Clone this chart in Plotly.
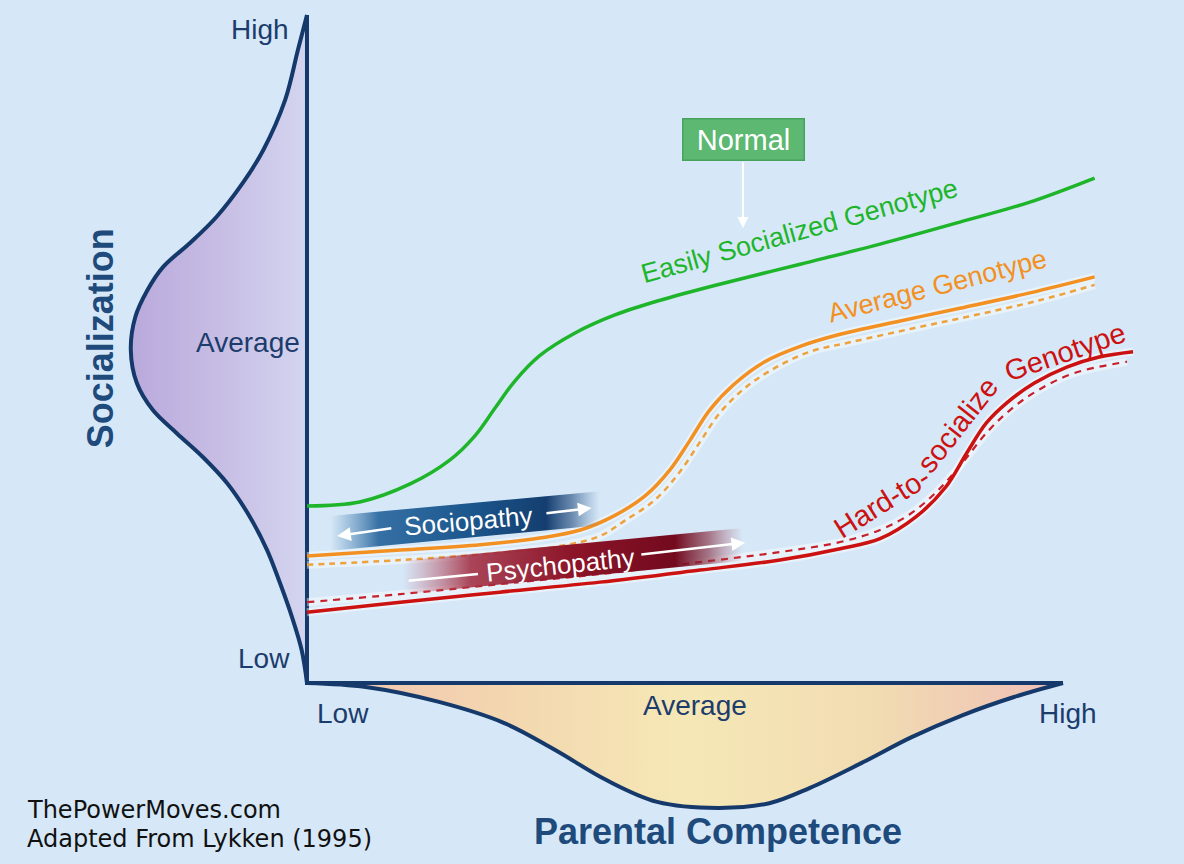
import plotly.graph_objects as go

# ---------------- data (competence 0..100 on x, socialization 0..100 on y) ----------------
green_x = [0, 7.0, 13.7, 19.0, 22.3, 25.0, 27.6, 30.9, 35.6, 40.9, 46.9, 54.8, 65.5, 76.1, 86.7, 96.0, 104.6]
green_y = [26.5, 27.1, 29.8, 33.4, 37.0, 41.2, 45.2, 49.0, 52.4, 55.1, 57.3, 59.7, 62.7, 65.7, 69.0, 72.0, 75.6]

orange_x = [0, 12.4, 23.0, 30.9, 36.3, 40.9, 44.9, 48.2, 50.9, 53.5, 56.8, 60.8, 65.5, 70.8, 78.8, 86.7, 96.0, 104.6]
orange_y = [19.0, 19.9, 20.7, 21.7, 22.9, 25.1, 28.0, 31.9, 36.4, 40.9, 44.8, 48.1, 50.4, 52.2, 54.2, 56.1, 58.4, 60.8]

orange_d_x = [0, 12.4, 25.6, 33.6, 38.9, 42.2, 46.2, 49.5, 52.2, 54.8, 58.2, 62.2, 66.8, 72.1, 80.1, 88.0, 97.3, 104.6]
orange_d_y = [17.7, 18.4, 19.5, 20.5, 22.0, 24.3, 27.4, 31.6, 36.1, 40.4, 44.2, 47.2, 49.6, 51.0, 53.0, 54.9, 57.3, 59.6]

red_x = [0, 12.4, 25.6, 38.9, 52.2, 62.8, 70.8, 76.1, 80.9, 84.8, 87.6, 90.2, 92.9, 96.6, 100.9, 105.2, 109.7]
red_y = [10.6, 12.1, 13.6, 15.1, 16.9, 18.4, 20.1, 21.6, 24.9, 29.3, 34.4, 38.9, 41.9, 44.9, 47.3, 48.8, 49.6]

red_d_x = [0, 12.4, 25.6, 38.9, 52.2, 62.8, 70.8, 76.1, 80.1, 83.6, 87.0, 90.2, 93.4, 97.2, 101.9, 108.9]
red_d_y = [12.1, 13.3, 14.8, 16.3, 18.1, 19.6, 21.1, 22.9, 25.3, 28.6, 32.9, 37.4, 40.9, 43.9, 46.4, 48.1]

# distribution of socialization (drawn left of the y axis)
soc_dist_x = [0, -1.2, -2.9, -5.8, -8.5, -12.0, -15.5, -19.1, -21.2, -22.8, -23.4, -22.6, -20.5, -17.3,
              -13.8, -10.6, -7.6, -5.3, -3.6, -2.0, -0.7, 0]
soc_dist_y = [100, 94.8, 87.3, 79.8, 74.9, 69.8, 65.9, 62.3, 58.8, 54.8, 49.9, 44.9, 40.9, 37.4,
              33.8, 29.9, 24.9, 19.9, 15.0, 9.9, 4.9, 0]

# distribution of parental competence (drawn below the x axis)
par_dist_x = [0, 7.8, 17.4, 26.2, 32.9, 39.7, 46.5, 54.6, 61.4, 66.8, 73.6, 80.3, 87.1, 93.9, 100.4]
par_dist_y = [0, -0.6, -2.8, -6.0, -10.0, -14.5, -17.8, -18.7, -18.0, -15.7, -12.0, -8.1, -4.8, -2.1, 0]

axis_high_x = 100.4
axis_high_y = 100

# bands (rotated strips)
socio_band_x = [3.1, 38.9, 38.9, 3.1]
socio_band_y = [25.0, 28.7, 23.6, 19.8]
psycho_band_x = [12.7, 57.9, 57.9, 12.7]
psycho_band_y = [18.3, 23.2, 18.3, 13.3]

y_tick_labels = ["High", "Average", "Low"]
x_tick_labels = ["Low", "Average", "High"]

# ---------------- styles ----------------
BG = "#d6e8f7"
NAVY = "#15396b"
LBL = "#1c3c6c"
TITLE = "#1e4a7c"
GREEN = "#1fb52b"
ORANGE = "#f39022"
ORANGE_D = "#eea23e"
RED = "#cc1111"
RED_D = "#c8202a"
FONT = "Liberation Sans, Arial, sans-serif"

fig = go.Figure()

# distribution fills
fig.add_trace(go.Scatter(
    x=soc_dist_x, y=soc_dist_y, mode="lines", line=dict(width=0, shape="spline"),
    fill="toself",
    fillgradient=dict(type="horizontal", colorscale=[[0, "#b9a9dc"], [0.5, "#c7bde4"], [1, "#d3d5ef"]]),
    hoverinfo="skip"))
fig.add_trace(go.Scatter(
    x=par_dist_x, y=par_dist_y, mode="lines", line=dict(width=0, shape="spline"),
    fill="toself",
    fillgradient=dict(type="horizontal", colorscale=[[0, "#f2c2ae"], [0.3, "#f3d9b0"], [0.5, "#f6e8b6"],
                                                     [0.75, "#f1dcb2"], [1, "#f0bfb6"]]),
    hoverinfo="skip"))

# outlines of the distributions
fig.add_trace(go.Scatter(x=soc_dist_x, y=soc_dist_y, mode="lines",
                         line=dict(color=NAVY, width=4, shape="spline"), hoverinfo="skip"))
fig.add_trace(go.Scatter(x=par_dist_x, y=par_dist_y, mode="lines",
                         line=dict(color=NAVY, width=4, shape="spline"), hoverinfo="skip"))

# axes
fig.add_trace(go.Scatter(x=[0, 0, axis_high_x], y=[axis_high_y, 0, 0], mode="lines",
                         line=dict(color=NAVY, width=4), hoverinfo="skip"))

# halos
for xs, ys in [(orange_x, orange_y), (orange_d_x, orange_d_y), (red_x, red_y), (red_d_x, red_d_y)]:
    fig.add_trace(go.Scatter(x=xs, y=ys, mode="lines",
                             line=dict(color="rgba(255,255,255,0.45)", width=8, shape="spline"),
                             hoverinfo="skip"))

# genotype curves
fig.add_trace(go.Scatter(x=orange_d_x, y=orange_d_y, mode="lines",
                         line=dict(color=ORANGE_D, width=2.5, dash="6px,5px", shape="spline"), hoverinfo="skip"))
fig.add_trace(go.Scatter(x=red_d_x, y=red_d_y, mode="lines",
                         line=dict(color=RED_D, width=2.2, dash="7px,6px", shape="spline"), hoverinfo="skip"))
fig.add_trace(go.Scatter(x=green_x, y=green_y, mode="lines",
                         line=dict(color=GREEN, width=3.5, shape="spline"), hoverinfo="skip"))
fig.add_trace(go.Scatter(x=orange_x, y=orange_y, mode="lines",
                         line=dict(color=ORANGE, width=3.5, shape="spline"), hoverinfo="skip"))
fig.add_trace(go.Scatter(x=red_x, y=red_y, mode="lines",
                         line=dict(color=RED, width=3.5, shape="spline"), hoverinfo="skip"))

# bands
fig.add_trace(go.Scatter(
    x=socio_band_x, y=socio_band_y, mode="lines", line=dict(width=0), fill="toself",
    fillgradient=dict(type="horizontal", colorscale=[
        [0, "rgba(70,130,180,0)"], [0.18, "rgba(45,105,160,0.95)"], [0.5, "rgba(28,88,142,1)"],
        [0.8, "rgba(20,62,112,1)"], [0.9, "rgba(40,80,130,0.6)"], [1, "rgba(80,120,170,0)"]]),
    hoverinfo="skip"))
fig.add_trace(go.Scatter(
    x=psycho_band_x, y=psycho_band_y, mode="lines", line=dict(width=0), fill="toself",
    fillgradient=dict(type="horizontal", colorscale=[
        [0, "rgba(190,90,110,0)"], [0.2, "rgba(165,50,70,0.9)"], [0.5, "rgba(140,20,40,1)"],
        [0.8, "rgba(115,10,30,1)"], [0.9, "rgba(130,40,60,0.6)"], [1, "rgba(170,90,110,0)"]]),
    hoverinfo="skip"))

annotations = []

def txt(x, y, s, size, color, xanchor="center", angle=0, family=FONT, bold=False, yanchor="middle"):
    annotations.append(dict(
        x=x, y=y, xref="x", yref="y", text=f"<b>{s}</b>" if bold else s, showarrow=False,
        xanchor=xanchor, yanchor=yanchor, textangle=angle,
        font=dict(size=size, color=color, family=family)))

# axis tick labels
txt(-2.1, 97.8, y_tick_labels[0], 28, LBL, xanchor="right")
txt(-0.6, 51.0, y_tick_labels[1], 28, LBL, xanchor="right")
txt(-2.0, 3.7, y_tick_labels[2], 28, LBL, xanchor="right")
txt(4.8, -4.5, x_tick_labels[0], 28, LBL)
txt(51.5, -3.3, x_tick_labels[1], 28, LBL)
txt(101.1, -4.5, x_tick_labels[2], 28, LBL)

# axis titles
txt(-27.5, 51.6, "Socialization", 36, TITLE, angle=-90, bold=True)
txt(54.6, -22.3, "Parental Competence", 36, TITLE, bold=True)

# curve labels
txt(65.4, 67.6, "Easily Socialized Genotype", 27, GREEN, angle=-15.5)
txt(83.7, 59.4, "Average Genotype", 27, ORANGE, angle=-14.4)
txt(76.3, 26.9, "Hard-to-", 29, RED, angle=-32)
txt(86.4, 38.6, "socialize", 29, RED, angle=-52)
txt(100.6, 49.6, "Genotype", 29, RED, angle=-19)

# band labels
txt(21.4, 24.3, "Sociopathy", 26, "white", angle=-5)
txt(33.6, 17.6, "Psychopathy", 26, "white", angle=-6)

# Normal box
annotations.append(dict(x=58.0, y=81.4, xref="x", yref="y", text="Normal", showarrow=False,
                        bgcolor="#5db872", bordercolor="#47a35c", borderwidth=1.5,
                        width=118, height=38, font=dict(size=29, color="white", family=FONT)))

def arrow(x0, y0, x1, y1, head=2, width=2.5):
    annotations.append(dict(x=x1, y=y1, ax=x0, ay=y0, xref="x", yref="y", axref="x", ayref="y",
                            text="", showarrow=True, arrowhead=head, arrowsize=1.1,
                            arrowwidth=width, arrowcolor="white"))

arrow(57.9, 78.2, 57.9, 68.1, width=2)
arrow(11.4, 23.2, 4.0, 22.0)
arrow(31.6, 25.4, 37.8, 26.2)
arrow(13.3, 15.3, 22.7, 16.3, head=0)
arrow(44.2, 19.2, 58.2, 21.0)

# source text
annotations.append(dict(x=-37.5, y=-19.0, xref="x", yref="y", text="ThePowerMoves.com", showarrow=False,
                        xanchor="left", font=dict(size=24, color="#111111", family="DejaVu Sans")))
annotations.append(dict(x=-37.5, y=-23.3, xref="x", yref="y", text="Adapted From Lykken (1995)",
                        showarrow=False, xanchor="left",
                        font=dict(size=24, color="#111111", family="DejaVu Sans")))

fig.update_layout(
    width=1184, height=864, margin=dict(l=0, r=0, t=0, b=0),
    paper_bgcolor=BG, plot_bgcolor=BG, showlegend=False,
    xaxis=dict(range=[-40.77, 116.47], visible=False, fixedrange=True),
    yaxis=dict(range=[-27.10, 102.25], visible=False, fixedrange=True),
    annotations=annotations,
)

fig.write_html("out.html")
